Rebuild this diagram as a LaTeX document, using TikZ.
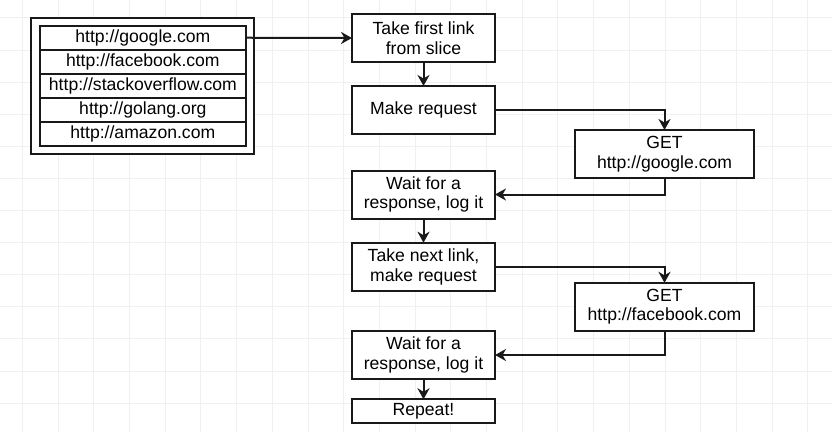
\documentclass[tikz,border=0pt]{standalone}
\usepackage{fontspec}
\setmainfont{Liberation Sans}
\usetikzlibrary{arrows.meta}
\begin{document}
\begin{tikzpicture}[x=1pt,y=-1pt,
  box/.style={draw=black!90,line width=2pt,fill=white,inner sep=0pt,outer sep=0pt,align=center,
    font=\fontsize{17.6}{19.5}\selectfont},
  rowbox/.style={box,minimum width=205.7pt,minimum height=24.06pt},
  flowbox/.style={box,minimum width=143pt,minimum height=48pt},
  getbox/.style={box,minimum width=179pt,minimum height=48pt},
  conn/.style={draw=black!90,line width=2pt,-{Stealth[length=11pt,width=12pt,inset=3.5pt]}},
  gridline/.style={draw=black!6,line width=0.8pt}]
\useasboundingbox (0,0) rectangle (832,432);
\fill[white] (0,0) rectangle (832,432);
\foreach \i in {0,...,22} {\draw[gridline] (22.3+35.7*\i,0) -- (22.3+35.7*\i,432);}
\foreach \j in {0,...,13} {\draw[gridline] (0,17.8+32.1*\j) -- (832,17.8+32.1*\j);}
% list of links
\node[box,minimum width=223pt,minimum height=136.6pt] (list) at (142.8,86) {};
\node[rowbox] (r1) at (142.85,37.73) {http://google.com};
\node[rowbox] (r2) at (142.85,61.79) {http://facebook.com};
\node[rowbox] (r3) at (142.85,85.85) {http://stackoverflow.com};
\node[rowbox] (r4) at (142.85,109.91) {http://golang.org};
\node[rowbox] (r5) at (142.85,133.97) {http://amazon.com};
% flow
\node[flowbox] (take) at (423.5,38) {Take first link\\from slice};
\node[flowbox] (make) at (423.5,110) {Make request};
\node[getbox] (get1) at (664.5,154) {GET\\http://google.com};
\node[flowbox] (wait1) at (423.5,194.5) {Wait for a\\response, log it};
\node[flowbox] (next) at (423.5,266.7) {Take next link,\\make request};
\node[getbox] (get2) at (664.5,306.8) {GET\\http://facebook.com};
\node[flowbox] (wait2) at (423.5,355) {Wait for a\\response, log it};
\node[flowbox,minimum height=24pt] (rep) at (423.5,411.3) {Repeat!};
% connectors
\draw[conn] (r1.east) -- (take.west);
\draw[conn] (take.south) -- (make.north);
\draw[conn] (make.east) -| (get1.north);
\draw[conn] (get1.south) |- (wait1.east);
\draw[conn] (wait1.south) -- (next.north);
\draw[conn] (next.east) -| (get2.north);
\draw[conn] (get2.south) |- (wait2.east);
\draw[conn] (wait2.south) -- (rep.north);
\end{tikzpicture}
\end{document}
